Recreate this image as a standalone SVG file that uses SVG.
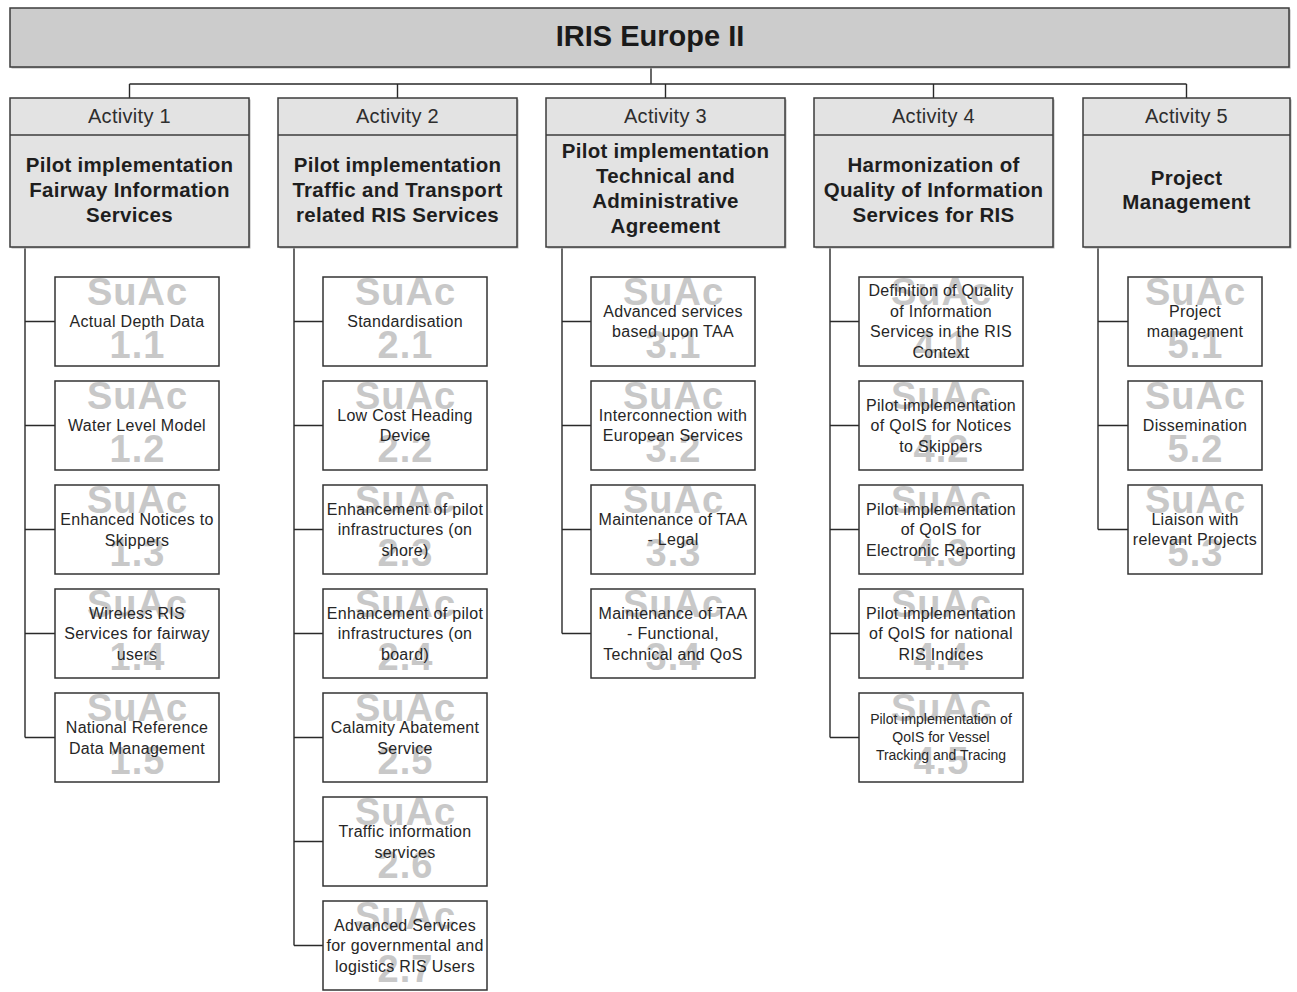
<svg xmlns="http://www.w3.org/2000/svg" width="1297" height="992" viewBox="0 0 1297 992">
<style>
.bg{fill:#ffffff}
.shadow{fill:#b4b4b4}
.titlebox{fill:#cccccc;stroke:#3c3c3c;stroke-width:1.5}
.actbox{fill:#e3e3e3;stroke:#3c3c3c;stroke-width:1.5}
.subbox{fill:#ffffff;stroke:#333333;stroke-width:1.5}
.div{stroke:#3c3c3c;stroke-width:1.5}
.conn{fill:none;stroke:#2a2a2a;stroke-width:1.4}
text{font-family:"Liberation Sans",Arial,sans-serif;text-anchor:middle}
.title{font-size:29px;font-weight:bold;fill:#1a1a1a}
.act{font-size:20px;fill:#2e2e2e;letter-spacing:0.3px}
.head{font-size:20.5px;font-weight:bold;fill:#1e1e1e;letter-spacing:0.3px}
.wm{font-size:38px;font-weight:bold;fill:#c8c8c8;letter-spacing:1px}
.sub{font-size:16px;fill:#262626;letter-spacing:0.3px}
.small{font-size:14px;fill:#262626}
</style>
<rect class="bg" x="0" y="0" width="1297" height="992"/>

<g id="connectors">
<path class="conn" d="M651 67V84M129.5 84H1186.5M129.5 84V98M397.5 84V98M665.5 84V98M933.5 84V98M1186.5 84V98"/>
<path class="conn" d="M25 247V737.5M25 321.5H55M25 425.5H55M25 529.5H55M25 633.5H55M25 737.5H55"/>
<path class="conn" d="M294 247V945.5M294 321.5H323M294 425.5H323M294 529.5H323M294 633.5H323M294 737.5H323M294 841.5H323M294 945.5H323"/>
<path class="conn" d="M562 247V633.5M562 321.5H591M562 425.5H591M562 529.5H591M562 633.5H591"/>
<path class="conn" d="M830 247V737.5M830 321.5H859M830 425.5H859M830 529.5H859M830 633.5H859M830 737.5H859"/>
<path class="conn" d="M1098 247V529.5M1098 321.5H1128M1098 425.5H1128M1098 529.5H1128"/>
</g>

<g id="root">
<rect class="shadow" x="11.5" y="9.5" width="1279" height="59"/>
<rect class="titlebox" x="10" y="8" width="1279" height="59"/>
<text class="title" x="650" y="46">IRIS Europe II</text>
</g>

<g id="activity1">
<rect class="shadow" x="11.5" y="99.5" width="239" height="149"/>
<rect class="actbox" x="10" y="98" width="239" height="149"/>
<line class="div" x1="10" y1="135" x2="249" y2="135"/>
<text class="act" x="129.5" y="123">Activity 1</text>
<text class="head"><tspan x="129.5" y="172">Pilot implementation</tspan><tspan x="129.5" y="197">Fairway Information</tspan><tspan x="129.5" y="222">Services</tspan></text>
</g>
<g id="activity2">
<rect class="shadow" x="279.5" y="99.5" width="239" height="149"/>
<rect class="actbox" x="278" y="98" width="239" height="149"/>
<line class="div" x1="278" y1="135" x2="517" y2="135"/>
<text class="act" x="397.5" y="123">Activity 2</text>
<text class="head"><tspan x="397.5" y="172">Pilot implementation</tspan><tspan x="397.5" y="197">Traffic and Transport</tspan><tspan x="397.5" y="222">related RIS Services</tspan></text>
</g>
<g id="activity3">
<rect class="shadow" x="547.5" y="99.5" width="239" height="149"/>
<rect class="actbox" x="546" y="98" width="239" height="149"/>
<line class="div" x1="546" y1="135" x2="785" y2="135"/>
<text class="act" x="665.5" y="123">Activity 3</text>
<text class="head"><tspan x="665.5" y="158">Pilot implementation</tspan><tspan x="665.5" y="183">Technical and</tspan><tspan x="665.5" y="208">Administrative</tspan><tspan x="665.5" y="233">Agreement</tspan></text>
</g>
<g id="activity4">
<rect class="shadow" x="815.5" y="99.5" width="239" height="149"/>
<rect class="actbox" x="814" y="98" width="239" height="149"/>
<line class="div" x1="814" y1="135" x2="1053" y2="135"/>
<text class="act" x="933.5" y="123">Activity 4</text>
<text class="head"><tspan x="933.5" y="172">Harmonization of</tspan><tspan x="933.5" y="197">Quality of Information</tspan><tspan x="933.5" y="222">Services for RIS</tspan></text>
</g>
<g id="activity5">
<rect class="shadow" x="1084.5" y="99.5" width="207" height="149"/>
<rect class="actbox" x="1083" y="98" width="207" height="149"/>
<line class="div" x1="1083" y1="135" x2="1290" y2="135"/>
<text class="act" x="1186.5" y="123">Activity 5</text>
<text class="head"><tspan x="1186.5" y="185">Project</tspan><tspan x="1186.5" y="209">Management</tspan></text>
</g>

<!-- Activity 1 sub-activities -->
<g id="suac1-1"><rect class="subbox" x="55" y="277" width="164" height="89"/><text class="wm" x="137.5" y="305">SuAc</text><text class="wm" x="137.5" y="358">1.1</text><text class="sub" x="137" y="327">Actual Depth Data</text></g>
<g id="suac1-2"><rect class="subbox" x="55" y="381" width="164" height="89"/><text class="wm" x="137.5" y="409">SuAc</text><text class="wm" x="137.5" y="462">1.2</text><text class="sub" x="137" y="431">Water Level Model</text></g>
<g id="suac1-3"><rect class="subbox" x="55" y="485" width="164" height="89"/><text class="wm" x="137.5" y="513">SuAc</text><text class="wm" x="137.5" y="566">1.3</text><text class="sub"><tspan x="137" y="525">Enhanced Notices to</tspan><tspan x="137" y="545.5">Skippers</tspan></text></g>
<g id="suac1-4"><rect class="subbox" x="55" y="589" width="164" height="89"/><text class="wm" x="137.5" y="617">SuAc</text><text class="wm" x="137.5" y="670">1.4</text><text class="sub"><tspan x="137" y="618.5">Wireless RIS</tspan><tspan x="137" y="639">Services for fairway</tspan><tspan x="137" y="659.5">users</tspan></text></g>
<g id="suac1-5"><rect class="subbox" x="55" y="693" width="164" height="89"/><text class="wm" x="137.5" y="721">SuAc</text><text class="wm" x="137.5" y="774">1.5</text><text class="sub"><tspan x="137" y="733">National Reference</tspan><tspan x="137" y="753.5">Data Management</tspan></text></g>

<!-- Activity 2 sub-activities -->
<g id="suac2-1"><rect class="subbox" x="323" y="277" width="164" height="89"/><text class="wm" x="405.5" y="305">SuAc</text><text class="wm" x="405.5" y="358">2.1</text><text class="sub" x="405" y="327">Standardisation</text></g>
<g id="suac2-2"><rect class="subbox" x="323" y="381" width="164" height="89"/><text class="wm" x="405.5" y="409">SuAc</text><text class="wm" x="405.5" y="462">2.2</text><text class="sub"><tspan x="405" y="420.75">Low Cost Heading</tspan><tspan x="405" y="441.25">Device</tspan></text></g>
<g id="suac2-3"><rect class="subbox" x="323" y="485" width="164" height="89"/><text class="wm" x="405.5" y="513">SuAc</text><text class="wm" x="405.5" y="566">2.3</text><text class="sub"><tspan x="405" y="514.5">Enhancement of pilot</tspan><tspan x="405" y="535">infrastructures (on</tspan><tspan x="405" y="555.5">shore)</tspan></text></g>
<g id="suac2-4"><rect class="subbox" x="323" y="589" width="164" height="89"/><text class="wm" x="405.5" y="617">SuAc</text><text class="wm" x="405.5" y="670">2.4</text><text class="sub"><tspan x="405" y="618.5">Enhancement of pilot</tspan><tspan x="405" y="639">infrastructures (on</tspan><tspan x="405" y="659.5">board)</tspan></text></g>
<g id="suac2-5"><rect class="subbox" x="323" y="693" width="164" height="89"/><text class="wm" x="405.5" y="721">SuAc</text><text class="wm" x="405.5" y="774">2.5</text><text class="sub"><tspan x="405" y="733">Calamity Abatement</tspan><tspan x="405" y="753.5">Service</tspan></text></g>
<g id="suac2-6"><rect class="subbox" x="323" y="797" width="164" height="89"/><text class="wm" x="405.5" y="825">SuAc</text><text class="wm" x="405.5" y="878">2.6</text><text class="sub"><tspan x="405" y="837">Traffic information</tspan><tspan x="405" y="857.5">services</tspan></text></g>
<g id="suac2-7"><rect class="subbox" x="323" y="901" width="164" height="89"/><text class="wm" x="405.5" y="929">SuAc</text><text class="wm" x="405.5" y="982">2.7</text><text class="sub"><tspan x="405" y="930.5">Advanced Services</tspan><tspan x="405" y="951">for governmental and</tspan><tspan x="405" y="971.5">logistics RIS Users</tspan></text></g>

<!-- Activity 3 sub-activities -->
<g id="suac3-1"><rect class="subbox" x="591" y="277" width="164" height="89"/><text class="wm" x="673.5" y="305">SuAc</text><text class="wm" x="673.5" y="358">3.1</text><text class="sub"><tspan x="673" y="316.75">Advanced services</tspan><tspan x="673" y="337.25">based upon TAA</tspan></text></g>
<g id="suac3-2"><rect class="subbox" x="591" y="381" width="164" height="89"/><text class="wm" x="673.5" y="409">SuAc</text><text class="wm" x="673.5" y="462">3.2</text><text class="sub"><tspan x="673" y="420.75">Interconnection with</tspan><tspan x="673" y="441.25">European Services</tspan></text></g>
<g id="suac3-3"><rect class="subbox" x="591" y="485" width="164" height="89"/><text class="wm" x="673.5" y="513">SuAc</text><text class="wm" x="673.5" y="566">3.3</text><text class="sub"><tspan x="673" y="524.75">Maintenance of TAA</tspan><tspan x="673" y="545.25">- Legal</tspan></text></g>
<g id="suac3-4"><rect class="subbox" x="591" y="589" width="164" height="89"/><text class="wm" x="673.5" y="617">SuAc</text><text class="wm" x="673.5" y="670">3.4</text><text class="sub"><tspan x="673" y="618.5">Maintenance of TAA</tspan><tspan x="673" y="639">- Functional,</tspan><tspan x="673" y="659.5">Technical and QoS</tspan></text></g>

<!-- Activity 4 sub-activities -->
<g id="suac4-1"><rect class="subbox" x="859" y="277" width="164" height="89"/><text class="wm" x="941.5" y="305">SuAc</text><text class="wm" x="941.5" y="358">4.1</text><text class="sub"><tspan x="941" y="296.25">Definition of Quality</tspan><tspan x="941" y="316.75">of Information</tspan><tspan x="941" y="337.25">Services in the RIS</tspan><tspan x="941" y="357.75">Context</tspan></text></g>
<g id="suac4-2"><rect class="subbox" x="859" y="381" width="164" height="89"/><text class="wm" x="941.5" y="409">SuAc</text><text class="wm" x="941.5" y="462">4.2</text><text class="sub"><tspan x="941" y="410.5">Pilot implementation</tspan><tspan x="941" y="431">of QoIS for Notices</tspan><tspan x="941" y="451.5">to Skippers</tspan></text></g>
<g id="suac4-3"><rect class="subbox" x="859" y="485" width="164" height="89"/><text class="wm" x="941.5" y="513">SuAc</text><text class="wm" x="941.5" y="566">4.3</text><text class="sub"><tspan x="941" y="514.5">Pilot implementation</tspan><tspan x="941" y="535">of QoIS for</tspan><tspan x="941" y="555.5">Electronic Reporting</tspan></text></g>
<g id="suac4-4"><rect class="subbox" x="859" y="589" width="164" height="89"/><text class="wm" x="941.5" y="617">SuAc</text><text class="wm" x="941.5" y="670">4.4</text><text class="sub"><tspan x="941" y="618.5">Pilot implementation</tspan><tspan x="941" y="639">of QoIS for national</tspan><tspan x="941" y="659.5">RIS Indices</tspan></text></g>
<g id="suac4-5"><rect class="subbox" x="859" y="693" width="164" height="89"/><text class="wm" x="941.5" y="721">SuAc</text><text class="wm" x="941.5" y="774">4.5</text><text class="small"><tspan x="941" y="724">Pilot implementation of</tspan><tspan x="941" y="742">QoIS for Vessel</tspan><tspan x="941" y="760">Tracking and Tracing</tspan></text></g>

<!-- Activity 5 sub-activities -->
<g id="suac5-1"><rect class="subbox" x="1128" y="277" width="134" height="89"/><text class="wm" x="1195.5" y="305">SuAc</text><text class="wm" x="1195.5" y="358">5.1</text><text class="sub"><tspan x="1195" y="316.75">Project</tspan><tspan x="1195" y="337.25">management</tspan></text></g>
<g id="suac5-2"><rect class="subbox" x="1128" y="381" width="134" height="89"/><text class="wm" x="1195.5" y="409">SuAc</text><text class="wm" x="1195.5" y="462">5.2</text><text class="sub" x="1195" y="431">Dissemination</text></g>
<g id="suac5-3"><rect class="subbox" x="1128" y="485" width="134" height="89"/><text class="wm" x="1195.5" y="513">SuAc</text><text class="wm" x="1195.5" y="566">5.3</text><text class="sub"><tspan x="1195" y="524.75">Liaison with</tspan><tspan x="1195" y="545.25">relevant Projects</tspan></text></g>
</svg>
